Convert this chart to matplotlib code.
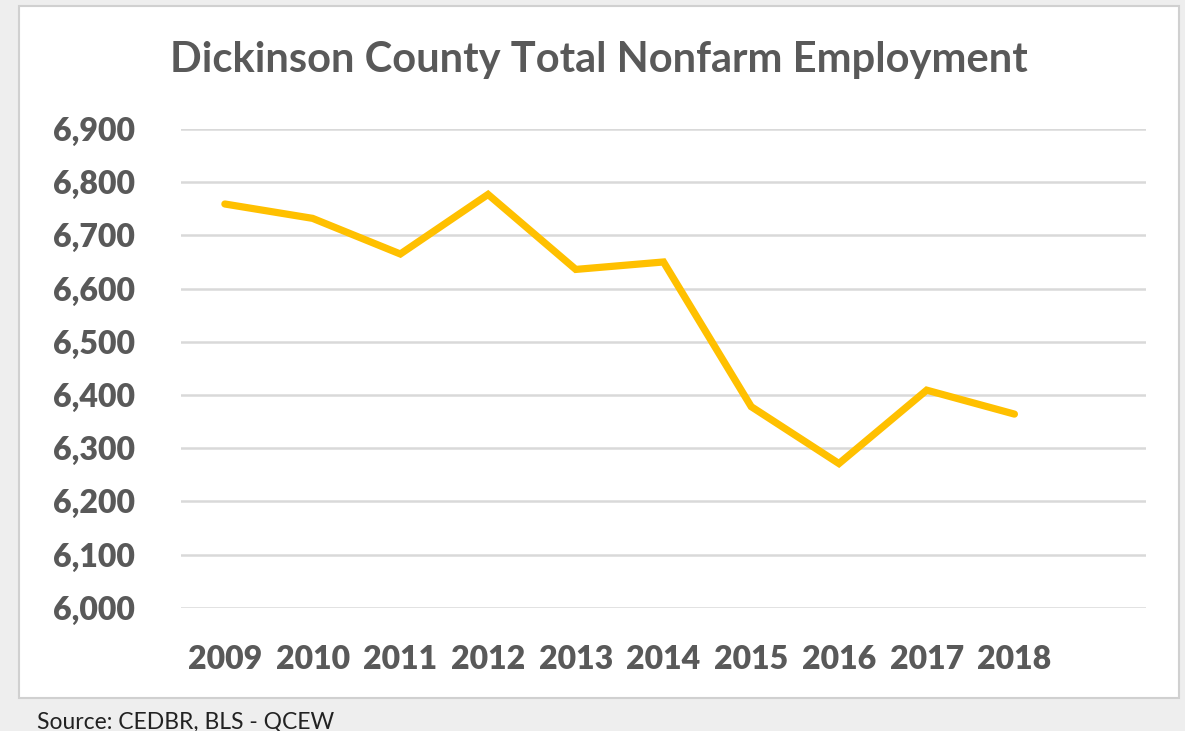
import matplotlib
matplotlib.use("Agg")
import matplotlib.pyplot as plt
from matplotlib.patches import Rectangle
from matplotlib.ticker import FuncFormatter

# Values
YEARS = ["2009", "2010", "2011", "2012", "2013", "2014", "2015", "2016", "2017", "2018"]
EMPLOYMENT = [6759, 6732, 6665, 6777, 6636, 6650, 6378, 6271, 6409, 6364]
Y_TICKS = [6000, 6100, 6200, 6300, 6400, 6500, 6600, 6700, 6800, 6900]

TITLE = "Dickinson County Total Nonfarm Employment"
SOURCE = "Source: CEDBR, BLS - QCEW"

GRAY_TEXT = "#595959"
GRID = "#d9d9d9"
GOLD = "#FFC000"

plt.rcParams["font.family"] = ["Lato", "DejaVu Sans"]

W, H = 1185, 731
fig = plt.figure(figsize=(W / 100, H / 100), dpi=100, facecolor="#eeeeee")

# white chart panel with thin border (behind the axes)
fig.patches.append(Rectangle((19 / W, 1 - 698 / H), (1179 - 19) / W, (698 - 6) / H,
                             transform=fig.transFigure, facecolor="white",
                             edgecolor="#d0d0d0", linewidth=1.5, zorder=-5))

ax = fig.add_axes([181 / W, 1 - 607.7 / H, (1146 - 181) / W, (607.7 - 129) / H])
ax.set_facecolor("none")
x = list(range(len(YEARS)))
ax.plot(x, EMPLOYMENT, color=GOLD, linewidth=5.2, solid_capstyle="round",
        solid_joinstyle="miter", zorder=3, clip_on=False)

# Excel-like category axis with one empty slot at the end
ax.set_xlim(-0.5, len(YEARS) + 0.5)
ax.set_ylim(6000, 6900)
ax.set_xticks(x, labels=YEARS)
ax.set_yticks(Y_TICKS)
ax.yaxis.set_major_formatter(FuncFormatter(lambda v, _: f"{int(v):,}"))

ax.grid(axis="y", color=GRID, linewidth=1.8)
ax.set_axisbelow(True)
for s in ax.spines.values():
    s.set_visible(False)
ax.tick_params(axis="both", length=0, labelsize=23, labelcolor=GRAY_TEXT)
ax.tick_params(axis="y", pad=33)
ax.tick_params(axis="x", pad=27)
for lab in ax.get_xticklabels() + ax.get_yticklabels():
    lab.set_fontweight("heavy")

fig.text(599 / W, 1 - 60 / H, TITLE, ha="center", va="center", fontsize=30,
         fontweight="bold", color=GRAY_TEXT)
fig.text(37 / W, 1 - 722 / H, SOURCE, ha="left", va="center", fontsize=16.5,
         color="#222222")

fig.savefig("out.png", dpi=100, facecolor=fig.get_facecolor())
